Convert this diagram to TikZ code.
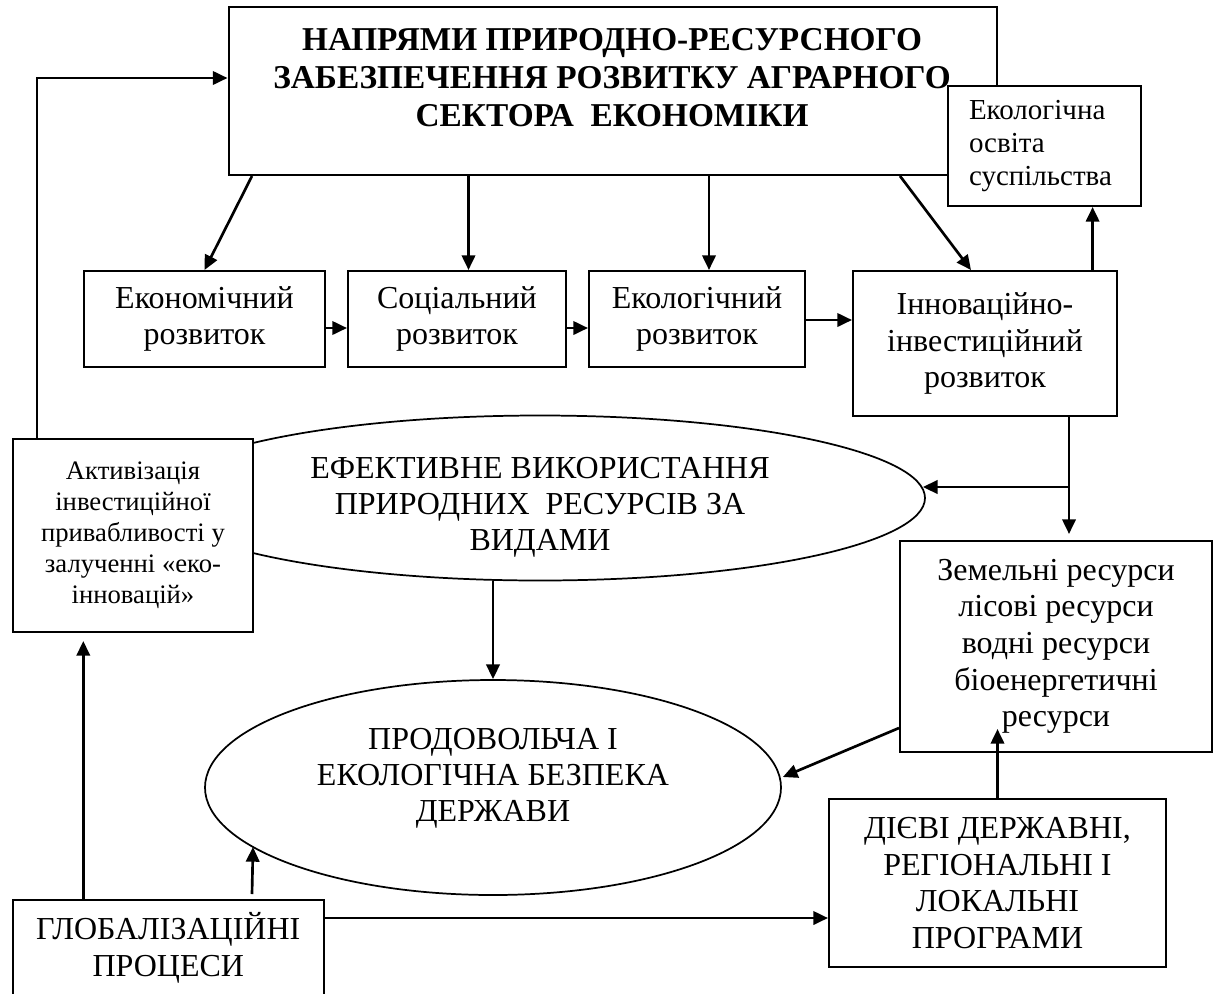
\documentclass[tikz,border=0pt]{standalone}
\usepackage{fontspec}
\setmainfont{Liberation Serif}
\usetikzlibrary{arrows.meta,calc,shapes.geometric}
\begin{document}
\begin{tikzpicture}[x=0.75pt,y=-0.75pt,
  box/.style={draw, line width=1.5pt, fill=white, inner sep=0pt, align=center,
    font=\fontsize{24}{27.5}\selectfont},
  smallbox/.style={box, font=\fontsize{20}{23.25}\selectfont},
  oval/.style={draw, ellipse, line width=1.3pt, inner sep=0pt},
  txt/.style={inner sep=0pt, align=center, font=\fontsize{24}{27}\selectfont},
  headtxt/.style={inner sep=0pt, align=center, font=\fontsize{25}{28.5}\selectfont\bfseries},
  arr/.style={line width=2pt, -{Triangle[length=11pt,width=10pt]}},
]
\clip (0,0) rectangle (1213,993);

% heading frame and the two ovals
\node[box, minimum width=576.375pt, minimum height=126pt] (title) at (612.75,91) {};
\node[oval, minimum width=577.5pt, minimum height=123.75pt] (e1) at (540,498) {};
\node[oval, minimum width=432pt, minimum height=161.25pt] (e2) at (493,787.5) {};

% side note box sits over the heading frame
\node[box, minimum width=144.75pt, minimum height=90pt, text width=113.25pt, align=left,
  font=\fontsize{21.75}{25}\selectfont] (ek) at (1044.5,146) {Екологічна\\освіта\\суспільства};
\node[headtxt] (titletext) at (612,78)
  {НАПРЯМИ ПРИРОДНО-РЕСУРСНОГО\\ЗАБЕЗПЕЧЕННЯ РОЗВИТКУ АГРАРНОГО\\СЕКТОРА~~ЕКОНОМІКИ\hspace{45pt}};

% row of development directions
\node[box, minimum width=180.75pt, minimum height=72pt] (b1) at (204.5,319) {Економічний\\розвиток};
\node[box, minimum width=163.5pt, minimum height=72pt] (b2) at (457,319) {Соціальний\\розвиток};
\node[box, minimum width=162pt, minimum height=72pt] (b3) at (697,319) {Екологічний\\розвиток};
\node[box, minimum width=198pt, minimum height=108.75pt] (b4) at (985,343.5)
  {Інноваційно-\\інвестиційний\\розвиток};

% remaining boxes
\node[smallbox, minimum width=180pt, minimum height=144.75pt] (akt) at (133,535.5)
  {Активізація\\інвестиційної\\привабливості у\\залученні «еко-\\інновацій»};
\node[box, minimum width=234pt, minimum height=158.25pt] (zem) at (1056,646.5)
  {Земельні ресурси\\лісові ресурси\\водні ресурси\\біоенергетичні\\ресурси};
\node[box, minimum width=252.75pt, minimum height=126pt] (prog) at (997.5,883)
  {ДІЄВІ ДЕРЖАВНІ,\\РЕГІОНАЛЬНІ І\\ЛОКАЛЬНІ\\ПРОГРАМИ};
\node[box, minimum width=233.55pt, minimum height=71.25pt] (glob) at (168.3,947.5)
  {ГЛОБАЛІЗАЦІЙНІ\\ПРОЦЕСИ};

% oval captions
\node[txt] (e1txt) at (540,507) {ЕФЕКТИВНЕ ВИКОРИСТАННЯ\\ПРИРОДНИХ~~РЕСУРСІВ ЗА\\ВИДАМИ};
\node[txt] (e2txt) at (493,778) {ПРОДОВОЛЬЧА І\\ЕКОЛОГІЧНА БЕЗПЕКА\\ДЕРЖАВИ};

% connectors from the heading
\draw[arr] ($(akt.north west)+(25,0)$) |- ($(title.north west)+(0,72)$);
\draw[arr] ($(title.south west)+(24.5,0)$) -- (b1.north);
\coordinate (b2in) at ($(b2.north)+(11.5,0)$);
\draw[arr] (title.south -| b2in) -- (b2in);
\coordinate (b3in) at ($(b3.north)+(12,0)$);
\draw[arr] (title.south -| b3in) -- (b3in);
\draw[arr] ($(title.south west)+(672.5,0)$) -- ($(b4.north)+(-14,0)$);
\coordinate (b4up) at ($(b4.north)+(107.6,0)$);
\draw[arr] (b4up) -- (b4up |- ek.south);

% along the row
\draw[arr] ([yshift=-6.75pt]b1.east) -- ([yshift=-6.75pt]b2.west);
\draw[arr] ([yshift=-6.75pt]b2.east) -- ([yshift=-6.75pt]b3.west);
\draw[arr] ([yshift=-0.75pt]b3.east) -- ([yshift=-0.75pt]b3.east -| b4.west);

% from the innovation box down to resources and the upper oval
\coordinate (b4dn) at ($(b4.south)+(84,0)$);
\coordinate (zemtop) at (b4dn |- zem.north);
\draw[arr] (b4dn) -- ($(zemtop)+(0,-6)$);
\coordinate (e1in) at ($(e1.east)+(-3,-11)$);
\draw[arr] (b4dn |- e1in) -- (e1in);

% into the lower oval
\draw[arr] (e1.south -| e2.north) -- (e2.north);
\draw[arr] ($(zem.west)+(0,81.5)$) -- ($(e2.east)+(1,-10.5)$);

% programmes and globalisation
\coordinate (zemin) at ($(zem.south)+(0,-24)$);
\draw[arr] (prog.north) -- (prog.north |- zemin);
\coordinate (gp) at ($(glob.north east)+(0,19)$);
\draw[arr] (gp) -- (gp -| prog.west);
\coordinate (ga) at ($(akt.south west)+(71.3,8)$);
\draw[arr] (ga |- glob.north) -- (ga);
\draw[arr] ($(glob.north west)+(240.4,-5)$) -- ($(e2.center)+(-240,59.5)$);
\end{tikzpicture}
\end{document}
